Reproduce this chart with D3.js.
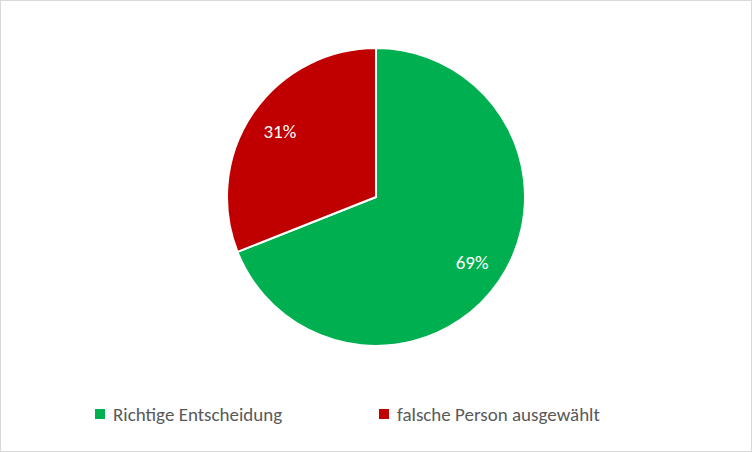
<!DOCTYPE html>
<html><head><meta charset="utf-8">
<script src="https://cdn.jsdelivr.net/npm/d3@7"></script>
<style>body{margin:0;background:#fff}</style></head>
<body><svg id="c" width="752" height="452"></svg>
<script>
const categories = ["Richtige Entscheidung", "falsche Person ausgewählt"];
const values = [69, 31];
const colors = ["#00B050", "#C00000"];

const svg = d3.select("#c");
svg.append("rect").attr("x",0.5).attr("y",0.5).attr("width",751).attr("height",451)
  .attr("fill","#fff").attr("stroke","#D9D9D9");
const cx = 376, cy = 197, r = 149;
const pie = d3.pie().sort(null)(values);
const arc = d3.arc().innerRadius(0).outerRadius(r);
const larc = d3.arc().innerRadius(r*0.78).outerRadius(r*0.78);
const g = svg.append("g").attr("transform",`translate(${cx},${cy})`);
g.selectAll("path").data(pie).join("path").attr("d",arc)
  .attr("fill",(d,i)=>colors[i]).attr("stroke","#fff").attr("stroke-width",2);
g.selectAll("text").data(pie).join("text")
  .attr("transform",d=>`translate(${larc.centroid(d)})`)
  .attr("text-anchor","middle").attr("dy","0.35em")
  .attr("fill","#fff").attr("font-family","Carlito, 'Open Sans', sans-serif").attr("font-size",19)
  .text((d,i)=>values[i]+"%");
const lx = [95, 379];
const lg = svg.selectAll("g.leg").data(categories).join("g").attr("class","leg")
  .attr("transform",(d,i)=>`translate(${lx[i]},414)`);
lg.append("rect").attr("x",0).attr("y",-5).attr("width",10).attr("height",10).attr("fill",(d,i)=>colors[i]);
lg.append("text").attr("x",18).attr("dy","0.35em").attr("fill","#595959")
  .attr("font-family","Carlito, 'Open Sans', sans-serif").attr("font-size",19).text(d=>d);
</script></body></html>
